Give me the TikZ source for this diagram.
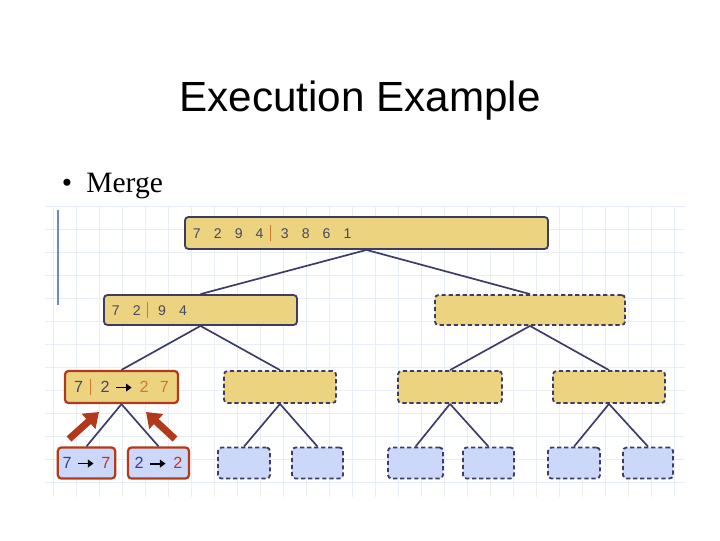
\documentclass[tikz,border=0pt]{standalone}
\usepackage{fontspec}
\setmainfont{Liberation Serif}
\setsansfont{Liberation Sans}
\usetikzlibrary{arrows.meta}
\definecolor{BoxYellow}{RGB}{235,211,128}
\definecolor{BoxBlue}{RGB}{204,216,250}
\definecolor{EdgeClr}{RGB}{60,60,105}
\definecolor{ActiveClr}{RGB}{178,58,26}
\definecolor{DigitClr}{RGB}{72,72,98}
\definecolor{LeafClr}{RGB}{60,60,140}
\definecolor{SplitClr}{RGB}{210,120,40}
\definecolor{RedDigit}{RGB}{195,50,40}
\definecolor{GridClr}{RGB}{232,238,248}
\definecolor{MarginClr}{RGB}{110,135,205}

\newcommand\dgap{\hspace{9.3pt}}
\newcommand\splitbar{\hspace{4.5pt}{\color{SplitClr}\rule[-2pt]{0.9pt}{12pt}}\hspace{7pt}}
\newcommand\mergearrow{\hspace{4pt}\tikz[baseline=-3.6pt]\draw[-{Triangle[length=4pt,width=5.5pt]},line width=1.3pt,black] (0,0) -- (11pt,0);\hspace{5pt}}

\begin{document}
\begin{tikzpicture}[x=0.025cm,y=-0.025cm,
  box/.style={draw=EdgeClr,line width=1.3pt,rounded corners=2.5pt,inner ysep=0pt,
    font=\sffamily\fontsize{10}{12}\selectfont,text=DigitClr},
  yel/.style={box,fill=BoxYellow},
  blu/.style={box,fill=BoxBlue,minimum height=0.775cm},
  todo/.style={dashed,dash pattern=on 3pt off 2pt},
  active/.style={draw=ActiveClr,line width=1.6pt},
  seq/.style={text width=#1,align=left,inner xsep=0.2cm},
  edge/.style={draw=EdgeClr,line width=1.2pt},
  mergepush/.style={draw=ActiveClr,line width=5pt,-{Triangle[length=10pt,width=14pt]}},
  gridline/.style={draw=GridClr,line width=0.5pt}]
\useasboundingbox (0,0) rectangle (720,540);

% faint squared paper behind the tree
\foreach \gx in {53,76,...,690} \draw[gridline] (\gx,206) -- (\gx,497);
\foreach \gy in {206,229,...,500} \draw[gridline] (45,\gy) -- (685,\gy);
\draw[MarginClr,line width=0.8pt] (58,210) -- (58,305);

\node[anchor=base,font=\sffamily\fontsize{30}{36}\selectfont] (title) at (360,111) {Execution Example};
\node[anchor=base west,font=\fontsize{21}{25}\selectfont] (bullet) at (57,192) {\textbullet\hspace{10pt}Merge};

% level 0
\node[yel,seq=8.675cm,minimum height=0.8cm] (root) at (366.5,233)
  {7\dgap2\dgap9\dgap4\splitbar3\dgap8\dgap6\dgap1};

% level 1
\node[yel,seq=4.425cm,minimum height=0.75cm] (half1) at (200.5,310) {7\dgap2\splitbar9\dgap4};
\node[yel,todo,minimum width=4.75cm,minimum height=0.75cm] (half2) at (530,310) {};

% level 2
\node[yel,active,minimum width=2.825cm,minimum height=0.8cm,font=\sffamily\fontsize{11.5}{13}\selectfont] (q1) at (121.5,387)
  {7\splitbar2\mergearrow{\color{SplitClr}2\hspace{8pt}7}};
\node[yel,todo,minimum width=2.8cm,minimum height=0.8cm] (q2) at (280,387) {};
\node[yel,todo,minimum width=2.6cm,minimum height=0.8cm] (q3) at (450,387) {};
\node[yel,todo,minimum width=2.8cm,minimum height=0.8cm] (q4) at (609,387) {};

% level 3
\node[blu,active,minimum width=1.325cm,font=\sffamily\fontsize{11.5}{13}\selectfont,text=LeafClr] (e1) at (86.5,463)
  {7\mergearrow\textcolor{RedDigit}{7}};
\node[blu,active,minimum width=1.525cm,font=\sffamily\fontsize{11.5}{13}\selectfont,text=LeafClr] (e2) at (158.5,463)
  {2\mergearrow\textcolor{RedDigit}{2}};
\node[blu,todo,minimum width=1.3cm] (e3) at (244,463) {};
\node[blu,todo,minimum width=1.275cm] (e4) at (317.5,463) {};
\node[blu,todo,minimum width=1.375cm] (e5) at (415.5,463) {};
\node[blu,todo,minimum width=1.275cm] (e6) at (488.5,463) {};
\node[blu,todo,minimum width=1.3cm] (e7) at (574,463) {};
\node[blu,todo,minimum width=1.25cm] (e8) at (648,463) {};

\draw[edge] (root.south) -- (half1.north);
\draw[edge] (root.south) -- (half2.north);
\draw[edge] (half1.south) -- (q1.north);
\draw[edge] (half1.south) -- (q2.north);
\draw[edge] (half2.south) -- (q3.north);
\draw[edge] (half2.south) -- (q4.north);
\draw[edge] (q1.south) -- (e1.north);
\draw[edge] (q1.south) -- (e2.north);
\draw[edge] (q2.south) -- (e3.north);
\draw[edge] (q2.south) -- (e4.north);
\draw[edge] (q3.south) -- (e5.north);
\draw[edge] (q3.south) -- (e6.north);
\draw[edge] (q4.south) -- (e7.north);
\draw[edge] (q4.south) -- (e8.north);

% merged values go back up
\coordinate (pushL) at (69,439);
\coordinate (tipL) at (99,412);
\coordinate (pushR) at (175,439);
\coordinate (tipR) at (146,412);
\draw[mergepush] (pushL) -- (tipL);
\draw[mergepush] (pushR) -- (tipR);

\end{tikzpicture}
\end{document}
